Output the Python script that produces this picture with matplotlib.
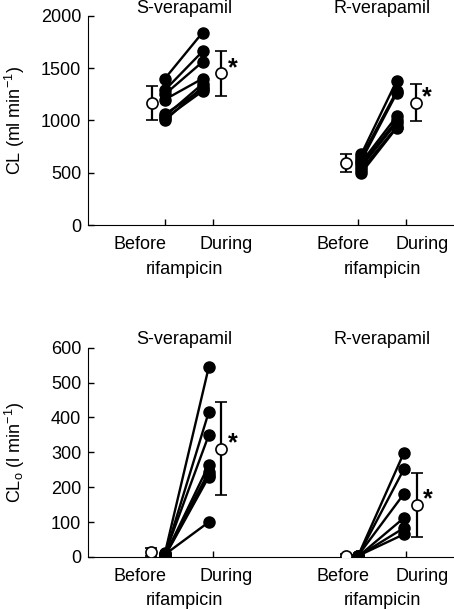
import matplotlib
matplotlib.use('Agg')
import matplotlib.pyplot as plt

plt.rcParams['font.family'] = ['Liberation Sans', 'DejaVu Sans']
plt.rcParams['font.size'] = 13
plt.rcParams['mathtext.fontset'] = 'custom'
plt.rcParams['mathtext.rm'] = 'Liberation Sans'
plt.rcParams['mathtext.it'] = 'Liberation Sans'

# CL (ml/min) - individual subjects
cl_s_before = [1400, 1290, 1250, 1200, 1060, 1040, 1020, 1000]
cl_s_during = [1840, 1660, 1560, 1400, 1300, 1350, 1280, 1320]
cl_r_before = [680, 650, 620, 600, 580, 560, 530, 500]
cl_r_during = [1380, 1280, 1260, 1040, 1000, 980, 940, 930]
# mean, sd
cl_s_mean = [1165, 1450]
cl_s_sd = [160, 215]
cl_r_mean = [593, 1170]
cl_r_sd = [90, 175]

# CLo (l/min)
clo_s_before = [10, 5, 8, 3, 6, 4, 2, 7]
clo_s_during = [545, 416, 350, 264, 244, 235, 230, 100]
clo_r_before = [3, 2, 4, 1, 2, 3]
clo_r_during = [299, 252, 181, 112, 83, 65]
clo_s_mean = [15, 310]
clo_s_sd = [12, 133]
clo_r_mean = [4, 150]
clo_r_sd = [3, 92]

ticks = [1, 2, 5, 6]
ticklabels = ['Before', 'During', 'Before', 'During']

fig = plt.figure(figsize=(4.54, 6.10), dpi=100)
ax1 = fig.add_axes([0.194, 0.631, 0.85, 0.343])
ax2 = fig.add_axes([0.194, 0.087, 0.85, 0.343])


def panel(ax, pairs, means, sds, ylim, yticks, ylabel, xd, title_y):
    for (b, d, xb, xe) in pairs:
        for vb, vd in zip(b, d):
            ax.plot([xb, xe], [vb, vd], '-', color='black', lw=1.7, zorder=2)
        ax.plot([xb] * len(b), b, 'o', color='black', ms=8, zorder=3)
        ax.plot([xe] * len(d), d, 'o', color='black', ms=8, zorder=3)
    for (m, s, xs) in zip(means, sds, xd):
        ax.errorbar(xs, m, yerr=s, fmt='o', mfc='white', mec='black', ecolor='black',
                    ms=8, mew=1.2, elinewidth=1.6, capsize=4, capthick=1.6, zorder=4)
        ax.text(xs[1] + 0.13, m[1] + 0.025 * ylim[1], '*', fontsize=18, fontweight='bold',
                ha='left', va='center')
    ax.set_xlim(-0.59, 7.4)
    ax.set_ylim(*ylim)
    ax.set_yticks(yticks)
    ax.set_xticks(ticks)
    ax.set_xticklabels([])
    ax.tick_params(direction='in', length=4, width=1, labelsize=13, pad=5)
    ax.spines['top'].set_visible(False)
    ax.spines['right'].set_visible(False)
    ax.set_ylabel(ylabel, fontsize=13)
    ax.yaxis.set_label_coords(-0.158, 0.5)
    for xs, lab in zip([0.48, 2.27, 4.68, 6.33], ticklabels):
        ax.text(xs, -0.095, lab, transform=ax.get_xaxis_transform(), ha='center', va='center')
    for xs in [1.4, 5.5]:
        ax.text(xs, -0.21, 'rifampicin', transform=ax.get_xaxis_transform(), ha='center', va='center')
    ax.text(1.4, title_y, 'S-verapamil', transform=ax.get_xaxis_transform(), ha='center', va='center')
    ax.text(5.5, title_y, 'R-verapamil', transform=ax.get_xaxis_transform(), ha='center', va='center')


panel(ax1,
      [(cl_s_before, cl_s_during, 1.0, 1.78), (cl_r_before, cl_r_during, 5.07, 5.8)],
      [cl_s_mean, cl_r_mean], [cl_s_sd, cl_r_sd],
      (0, 2000), [0, 500, 1000, 1500, 2000], 'CL (ml min$^{-1}$)',
      [[0.74, 2.17], [4.74, 6.19]], 1.035)
panel(ax2,
      [(clo_s_before, clo_s_during, 1.0, 1.91), (clo_r_before, clo_r_during, 5.0, 5.95)],
      [clo_s_mean, clo_r_mean], [clo_s_sd, clo_r_sd],
      (0, 600), [0, 100, 200, 300, 400, 500, 600], 'CL$_\\mathrm{o}$ (l min$^{-1}$)',
      [[0.72, 2.17], [4.74, 6.22]], 1.04)

fig.savefig('out.png', dpi=100)
